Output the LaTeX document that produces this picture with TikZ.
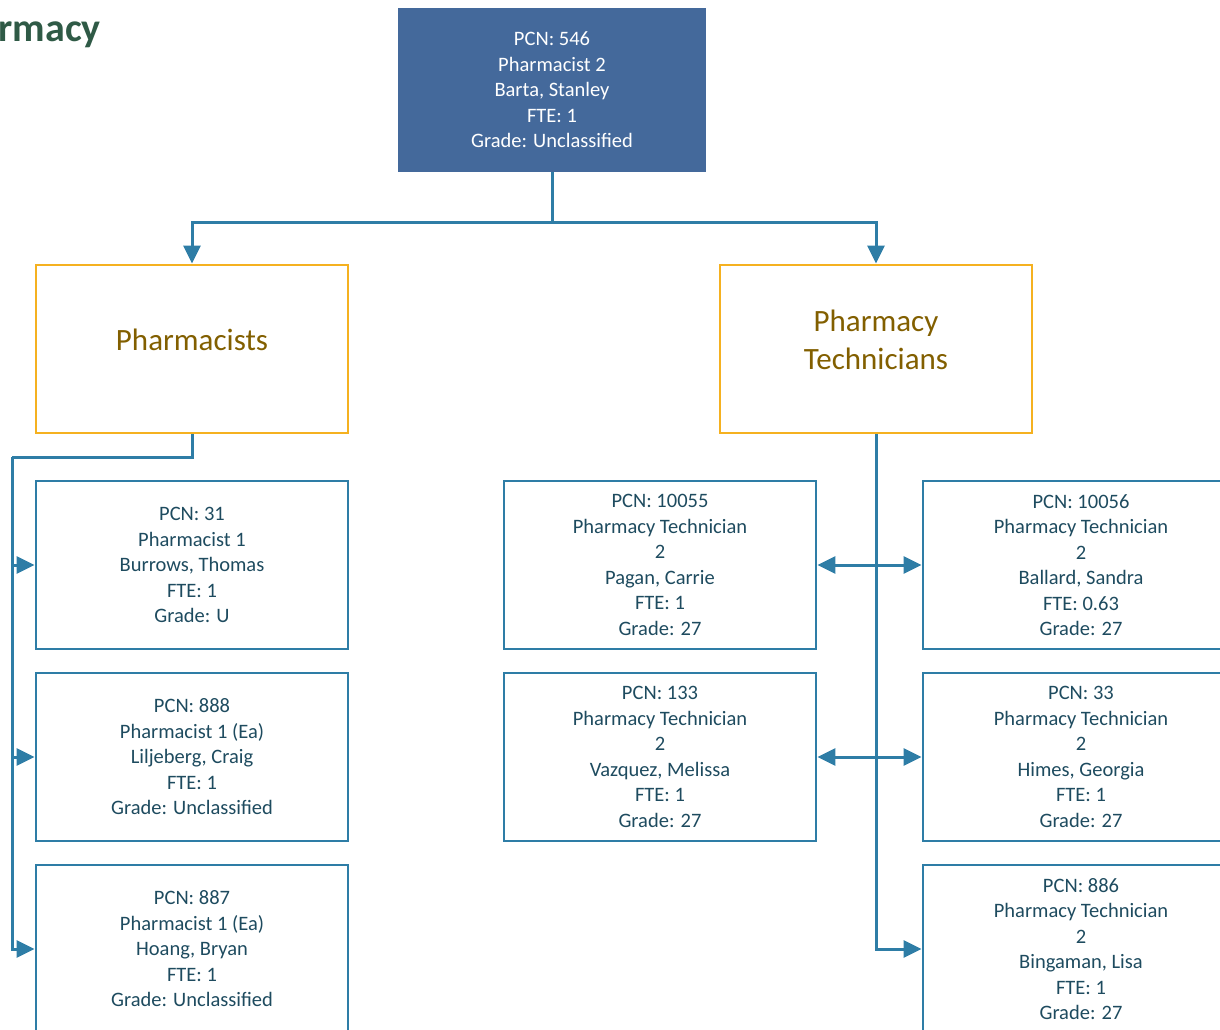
\documentclass[tikz,border=0pt]{standalone}
\usepackage{fontspec}
\setmainfont{Carlito}
\usetikzlibrary{arrows.meta}
\definecolor{linec}{RGB}{46,125,166}
\definecolor{boxtxt}{RGB}{30,75,95}
\definecolor{headtxt}{RGB}{130,95,0}
\definecolor{orangeb}{RGB}{245,177,32}
\definecolor{topfill}{RGB}{68,105,155}
\definecolor{titlec}{RGB}{47,90,70}
\tikzset{
  pbox/.style={draw=linec, line width=2.8pt, minimum width=312pt, minimum height=168pt, inner sep=0pt, align=center, text=boxtxt, font=\fontsize{20.5}{25.5}\selectfont},
  gbox/.style={draw=orangeb, line width=2.8pt, minimum width=312pt, minimum height=168pt, inner sep=0pt, align=center, text=headtxt, font=\fontsize{31}{38}\selectfont},
  topbox/.style={fill=topfill, draw=none, minimum width=308pt, minimum height=164pt, inner sep=0pt, align=center, text=white, font=\fontsize{20.5}{25.5}\selectfont},
  conn/.style={draw=linec, line width=3pt},
  arr/.style={conn, -{Triangle[length=18pt,width=17pt]}},
  darr/.style={conn, {Triangle[length=18pt,width=17pt]}-{Triangle[length=18pt,width=17pt]}}
}
\begin{document}
\begin{tikzpicture}[x=1pt,y=-1pt]
\useasboundingbox (0,0) rectangle (1220,1030);
\clip (0,0) rectangle (1220,1030);
\node[anchor=base east, text=titlec, font=\fontsize{40}{44}\selectfont\bfseries, inner sep=0pt] (title) at (101,42) {Pharmacy};
\node[topbox] (top) at (552,90) {PCN: 546\\Pharmacist 2\\Barta, Stanley\\FTE: 1\\Grade: Unclassified};
\node[gbox] (ph) at (192,349) {};
\node[text=headtxt, font=\fontsize{31}{38}\selectfont, align=center] (phl) at (192,340) {Pharmacists};
\node[gbox] (tech) at (876,349) {};
\node[text=headtxt, font=\fontsize{31}{38}\selectfont, align=center] (techl) at (876,340) {Pharmacy\\Technicians};
\node[pbox] (L1) at (192,565) {PCN: 31\\Pharmacist 1\\Burrows, Thomas\\FTE: 1\\Grade: U};
\node[pbox] (L2) at (192,757) {PCN: 888\\Pharmacist 1 (Ea)\\Liljeberg, Craig\\FTE: 1\\Grade: Unclassified};
\node[pbox] (L3) at (192,949) {PCN: 887\\Pharmacist 1 (Ea)\\Hoang, Bryan\\FTE: 1\\Grade: Unclassified};
\node[pbox] (M1) at (660,565) {PCN: 10055\\Pharmacy Technician\\2\\Pagan, Carrie\\FTE: 1\\Grade: 27};
\node[pbox] (M2) at (660,757) {PCN: 133\\Pharmacy Technician\\2\\Vazquez, Melissa\\FTE: 1\\Grade: 27};
\node[pbox] (R1) at (1079,565) {\hspace*{4pt}PCN: 10056\\\hspace*{4pt}Pharmacy Technician\\\hspace*{4pt}2\\\hspace*{4pt}Ballard, Sandra\\\hspace*{4pt}FTE: 0.63\\\hspace*{4pt}Grade: 27};
\node[pbox] (R2) at (1079,757) {\hspace*{4pt}PCN: 33\\\hspace*{4pt}Pharmacy Technician\\\hspace*{4pt}2\\\hspace*{4pt}Himes, Georgia\\\hspace*{4pt}FTE: 1\\\hspace*{4pt}Grade: 27};
\node[pbox] (R3) at (1079,949) {\hspace*{4pt}PCN: 886\\\hspace*{4pt}Pharmacy Technician\\\hspace*{4pt}2\\\hspace*{4pt}Bingaman, Lisa\\\hspace*{4pt}FTE: 1\\\hspace*{4pt}Grade: 27};
\coordinate (j) at (552,222);
\coordinate (lb) at (12,457);
\draw[conn] (top.south) -- (j);
\draw[arr] (j) -| (ph.north);
\draw[arr] (j) -| (tech.north);
\draw[conn] (ph.south) |- (lb);
\draw[arr] (lb) |- (L1.west);
\draw[arr] (lb) |- (L2.west);
\draw[arr] (lb) |- (L3.west);
\draw[arr] (tech.south) |- (R3.west);
\draw[darr] (M1.east) -- (R1.west);
\draw[darr] (M2.east) -- (R2.west);
\end{tikzpicture}
\end{document}
